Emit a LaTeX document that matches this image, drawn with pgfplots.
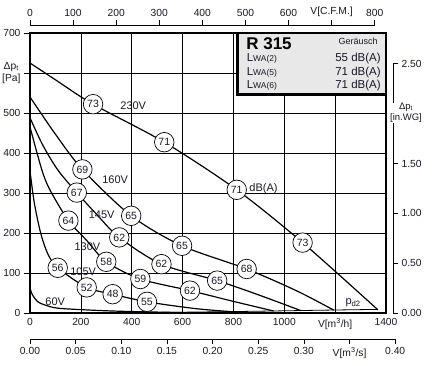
\documentclass[border=0pt]{standalone}
\usepackage{pgfplots}
\pgfplotsset{compat=1.18}
\usepackage{fontspec}
\setmainfont{Liberation Sans}
\newcommand\tickfont{\fontsize{10.3}{12}\selectfont}
\newcommand\curvefont{\fontsize{11}{13}\selectfont}
\definecolor{boxgray}{RGB}{232,232,232}
\definecolor{txt}{RGB}{25,25,40}
\pgfplotstableread{
x y lab
248 522 73
528 427 71
813 308 71
1072 176 73
206 359 69
398 243 65
598 168 65
852 110 68
184 301 67
351 189 62
517 122 62
736 81 65
151 231 64
300 128 58
434 85 59
629 56 62
109 113 56
223 64 52
325 47 48
460 28 55
}\circlabels
\begin{document}
\begin{tikzpicture}
\path[use as bounding box] (0,0) rectangle (434pt,366pt);
% main axis
\begin{axis}[
  at={(30pt,53pt)}, anchor=south west,
  scale only axis, width=356pt, height=280pt,
  xmin=0, xmax=1400, ymin=0, ymax=700,
  xtick={0,200,...,1400},
  xticklabels={0,200,400,600,800,1000,{V[m\textsuperscript{3}/h]},1400},
  ytick={0,100,...,700},
  yticklabels={},
  xticklabel style={font=\tickfont, text=txt, yshift=-2pt},
  grid=major,
  grid style={black, line width=0.7pt},
  axis line style={black, line width=2.8pt},
  tick align=inside,
  major tick length=3pt,
  tick style={black, line width=0.7pt},
]
% 230V
\addplot[black, line width=1.2pt, smooth, tension=0.5] coordinates {
(0,625) (100,583) (248,522) (528,427) (813,308) (1072,176) (1368,8)};
% 160V
\addplot[black, line width=1.2pt, smooth, tension=0.5] coordinates {
(0,540) (100,447) (206,359) (398,243) (598,168) (852,110) (1050,55) (1195,7)};
% 145V
\addplot[black, line width=1.2pt, smooth, tension=0.5] coordinates {
(0,488) (50,420) (110,357) (184,301) (260,248) (351,189) (517,122) (736,81) (900,45) (1065,6)};
% 130V
\addplot[black, line width=1.2pt, smooth, tension=0.5] coordinates {
(0,465) (47,357) (79,307) (151,231) (222,182) (300,128) (434,85) (629,56) (800,29) (958,5)};
% 105V
\addplot[black, line width=1.2pt, smooth, tension=0.5] coordinates {
(0,355) (17,275) (42,200) (70,148) (109,113) (223,64) (325,47) (460,28) (650,11) (800,3)};
% 60V
\addplot[black, line width=1.2pt, smooth, tension=0.5] coordinates {
(0,62) (10,45) (31,28) (59,20) (110,12) (245,7) (375,4) (600,1)};
% pd2
\addplot[black, line width=0.8pt, smooth] coordinates {
(0,0) (300,0.5) (600,2) (900,4.5) (1150,7) (1368,9)};
% circle labels
\addplot[draw=none, mark=none, nodes near coords, point meta=explicit symbolic,
  every node near coord/.append style={circle, draw=black, line width=0.7pt, fill=white,
    inner sep=0pt, minimum size=19.5pt, anchor=center,
    font=\fontsize{10.5}{12}\selectfont, text=txt}]
  table[x=x, y=y, meta=lab] {\circlabels};
% voltage labels
\node[font=\curvefont, text=txt] at (axis cs:406,517) {230V};
\node[font=\curvefont, text=txt] at (axis cs:335,332) {160V};
\node[font=\curvefont, text=txt] at (axis cs:282,245) {145V};
\node[font=\curvefont, text=txt] at (axis cs:226,166) {130V};
\node[font=\curvefont, text=txt] at (axis cs:209,102) {105V};
\node[font=\curvefont, text=txt] at (axis cs:99,27) {60V};
\node[font=\curvefont, text=txt, anchor=west, inner sep=0pt] at (axis cs:862,312) {dB(A)};
\node[font=\curvefont, text=txt, anchor=west, inner sep=0pt] at (axis cs:1240,26) {p\textsubscript{d2}};
% legend box
\draw[line width=2.8pt, fill=boxgray] (axis cs:816,547) rectangle (axis cs:1400,700);
\node[anchor=west, inner sep=0pt, font=\fontsize{17}{17}\selectfont\bfseries] at (axis cs:850,673) {R 315};
\node[anchor=east, inner sep=0pt, font=\fontsize{9}{10}\selectfont, text=txt] at (axis cs:1368,680) {Geräusch};
\node[anchor=west, inner sep=0pt, font=\fontsize{11.5}{13}\selectfont, text=txt] at (axis cs:852,637) {L{\fontsize{8.5}{10}\selectfont WA(2)}};
\node[anchor=west, inner sep=0pt, font=\fontsize{11.5}{13}\selectfont, text=txt] at (axis cs:852,601) {L{\fontsize{8.5}{10}\selectfont WA(5)}};
\node[anchor=west, inner sep=0pt, font=\fontsize{11.5}{13}\selectfont, text=txt] at (axis cs:852,568) {L{\fontsize{8.5}{10}\selectfont WA(6)}};
\node[anchor=east, inner sep=0pt, font=\fontsize{11.5}{13}\selectfont, text=txt] at (axis cs:1380,637) {55 dB(A)};
\node[anchor=east, inner sep=0pt, font=\fontsize{11.5}{13}\selectfont, text=txt] at (axis cs:1380,601) {71 dB(A)};
\node[anchor=east, inner sep=0pt, font=\fontsize{11.5}{13}\selectfont, text=txt] at (axis cs:1380,568) {71 dB(A)};
\end{axis}
% left Pa axis ticks and labels
\begin{axis}[
  at={(30pt,53pt)}, anchor=south west,
  scale only axis, width=356pt, height=280pt,
  xmin=0, xmax=1400, ymin=0, ymax=700,
  axis y line=left, axis x line=none,
  y axis line style={-, draw=none},
  ytick={0,100,...,700},
  yticklabels={0,100,200,300,400,500,{Δp\textsubscript{t}\\{}[Pa]},700},
  yticklabel style={align=center, font=\tickfont, text=txt},
  tick align=outside, major tick length=6pt,
  tick style={black, line width=0.7pt},
]
\end{axis}
% top CFM axis
\begin{axis}[
  at={(30pt,340pt)}, anchor=south west, scale only axis,
  width=344.7pt, height=1pt,
  xmin=0, xmax=800, ymin=0, ymax=1,
  axis x line=top, axis y line=none,
  axis line style={-, black, line width=0.8pt},
  x axis line style={-},
  xtick={0,100,...,800},
  xticklabels={0,100,200,300,400,500,600,{V[C.F.M.]},800},
  tick align=outside, major tick length=5pt,
  tick style={black, line width=0.8pt},
  xticklabel style={font=\tickfont, text=txt},
]
\end{axis}
% bottom m3/s axis
\begin{axis}[
  at={(30pt,27pt)}, anchor=south west, scale only axis,
  width=365.2pt, height=1pt,
  xmin=0, xmax=0.4, ymin=0, ymax=1,
  axis x line=bottom, axis y line=none,
  axis line style={-, black, line width=0.8pt},
  x axis line style={-},
  xtick={0,0.05,0.1,0.15,0.2,0.25,0.3,0.35,0.4},
  xticklabels={0.00,0.05,0.10,0.15,0.20,0.25,0.30,{V[m\textsuperscript{3}/s]},0.40},
  tick align=outside, major tick length=5pt,
  tick style={black, line width=0.8pt},
  xticklabel style={font=\tickfont, text=txt},
]
\end{axis}
% right in.WG axis
\begin{axis}[
  at={(392pt,53pt)}, anchor=south west, scale only axis,
  width=1pt, height=249.1pt,
  xmin=0, xmax=1, ymin=0, ymax=2.5,
  axis y line=right, axis x line=none,
  axis line style={-, black, line width=0.8pt},
  y axis line style={-},
  ytick={0,0.5,1,1.5,2,2.5},
  yticklabels={0.00,0.50,1.00,1.50,{},2.50},
  tick align=outside, major tick length=5pt,
  tick style={black, line width=0.8pt},
  yticklabel style={font=\tickfont, text=txt},
  clip=false,
]
\node[align=center, font=\fontsize{9.5}{10.5}\selectfont, text=txt, fill=white, inner sep=0.5pt] at (axis cs:1,2) [xshift=13pt, yshift=1pt] {Δp\textsubscript{t}\\{}[in.WG]};
\end{axis}
\end{tikzpicture}
\end{document}
